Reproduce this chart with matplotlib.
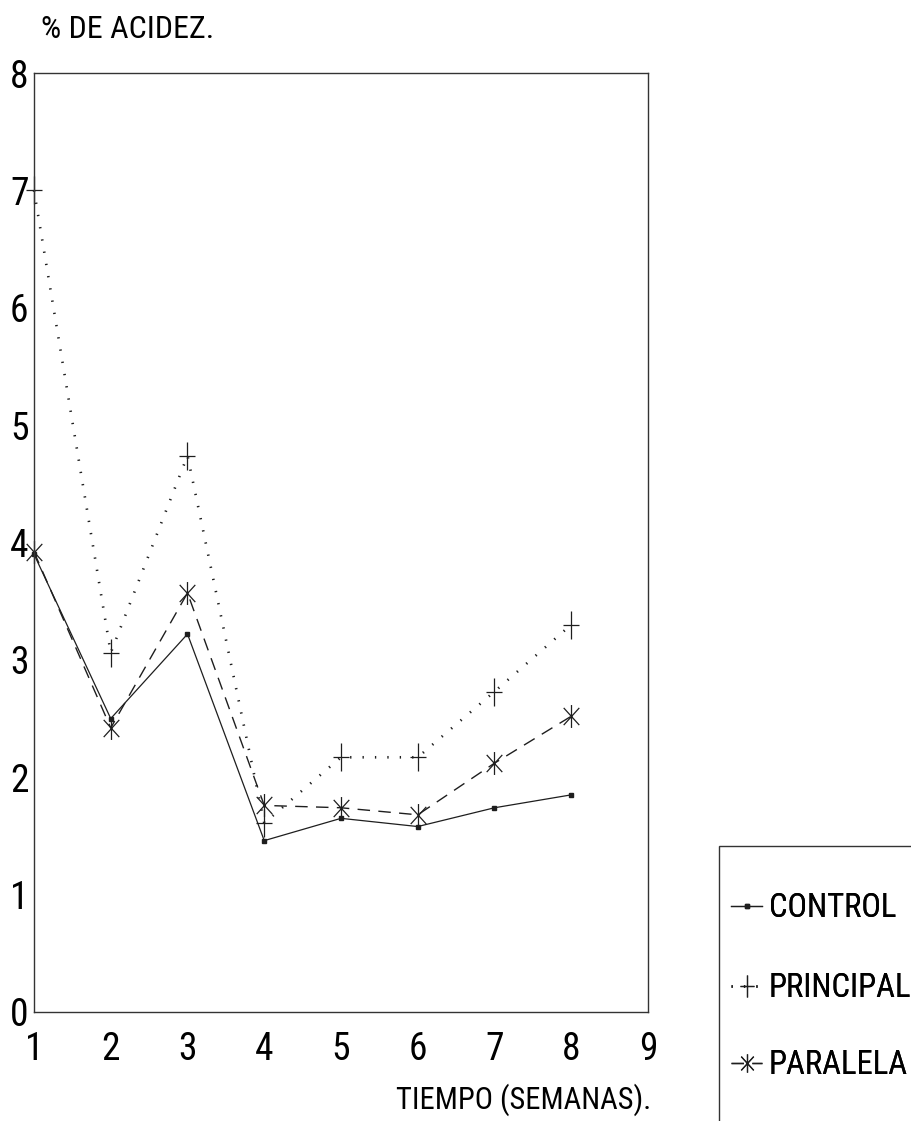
import matplotlib
matplotlib.use("Agg")
import os
import matplotlib.pyplot as plt
from matplotlib.patches import Rectangle
from matplotlib.path import Path
from matplotlib import font_manager
from matplotlib.font_manager import FontProperties

weeks = [1, 2, 3, 4, 5, 6, 7, 8]
control = [3.90, 2.50, 3.22, 1.46, 1.65, 1.58, 1.74, 1.85]
principal = [7.00, 3.06, 4.74, 1.61, 2.17, 2.17, 2.73, 3.30]
paralela = [3.92, 2.42, 3.57, 1.76, 1.74, 1.68, 2.12, 2.52]
series_names = ["CONTROL", "PRINCIPAL", "PARALELA"]
x_ticks = [1, 2, 3, 4, 5, 6, 7, 8, 9]
y_ticks = [0, 1, 2, 3, 4, 5, 6, 7, 8]

# ---- pick a condensed sans font if one is installed ----
files = font_manager.findSystemFonts()
prefs = ["LiberationSansNarrow-Regular", "RobotoCondensed-Regular",
         "Roboto-Condensed", "DejaVuSansCondensed.", "OpenSans-CondensedRegular",
         "OpenSans_Condensed-Regular", "NotoSans-CondensedRegular",
         "NotoSansDisplay-CondensedRegular", "Narrow", "Condensed"]
path = None
for p in prefs:
    for f in files:
        b = os.path.basename(f)
        if p in b and not any(k in b for k in ["Bold", "Italic", "Light", "Thin",
                                                "Black", "Medium", "Semi", "Oblique",
                                                "Extra"]):
            path = f
            break
    if path:
        break
if path:
    FP = lambda s: FontProperties(fname=path, size=s)
else:
    FP = lambda s: FontProperties(family=["Liberation Sans", "DejaVu Sans"], size=s)

W, H = 912, 1121
fig = plt.figure(figsize=(W / 100, H / 100), dpi=100)
renderer = fig.canvas.get_renderer()

def fit_size(s, max_size, target_w):
    t = fig.text(0, 0, s, fontproperties=FP(max_size))
    w = t.get_window_extent(renderer).width
    t.remove()
    return max_size * min(1.0, target_w / w)

ax = fig.add_axes([34 / W, 1 - 1012 / H, (648 - 34) / W, (1012 - 73) / H])

# plotter-style markers: taller than wide
plus = Path([(-0.62, 0), (0.62, 0), (0, -1), (0, 1)],
            [Path.MOVETO, Path.LINETO, Path.MOVETO, Path.LINETO])
aster = Path([(0, -1), (0, 1), (-0.68, -0.75), (0.68, 0.75), (-0.68, 0.75), (0.68, -0.75)],
             [Path.MOVETO, Path.LINETO, Path.MOVETO, Path.LINETO, Path.MOVETO, Path.LINETO])

ink = "#1e1e1e"
l1, = ax.plot(weeks, control, color=ink, lw=0.9, ls='-', marker='s', ms=3.0,
              label=series_names[0], clip_on=False)
l2, = ax.plot(weeks, principal, color=ink, lw=1.9, ls=(0, (0.5, 4.2)), marker=plus,
              ms=19.5, mew=0.9, label=series_names[1], clip_on=False)
l3, = ax.plot(weeks, paralela, color=ink, lw=1.0, ls=(0, (9, 6)), marker=aster,
              ms=16.5, mew=0.9, label=series_names[2], clip_on=False)

ax.set_xlim(1, 9)
ax.set_ylim(0, 8)
ax.set_xticks(x_ticks)
ax.set_yticks(y_ticks)
ax.tick_params(length=0, colors='black')
ax.tick_params(axis='x', pad=14)
ax.tick_params(axis='y', pad=4)
for lab in ax.get_xticklabels() + ax.get_yticklabels():
    lab.set_fontproperties(FP(27))
for s in ax.spines.values():
    s.set_linewidth(1.0)
    s.set_color("#333333")

fig.text(41 / W, 1 - 30 / H, "% DE ACIDEZ.", fontproperties=FP(23),
         ha='left', va='center')
fig.text(651 / W, 1 - 1100 / H, "TIEMPO (SEMANAS).", fontproperties=FP(22),
         ha='right', va='center')

# legend box (runs past the figure edge, as in the reference)
fig.patches.append(Rectangle((719 / W, -0.05), 0.5, 1 - 846 / H + 0.05,
                             transform=fig.transFigure, fill=False,
                             edgecolor="#333333", lw=1.0, clip_on=False))
leg_size = fit_size("PRINCIPAL", 29, 143)
leg_y = [908, 988, 1065]
for h, yy in zip([l1, l2, l3], leg_y):
    lg = fig.legend(handles=[h], loc='center left',
                    bbox_to_anchor=(731 / W, 1 - yy / H), frameon=False,
                    prop=FP(leg_size), handlelength=0.95, handletextpad=0.2,
                    borderpad=0, borderaxespad=0, markerscale=0.8)
    fig.add_artist(lg)

fig.savefig("out.png", dpi=100)
